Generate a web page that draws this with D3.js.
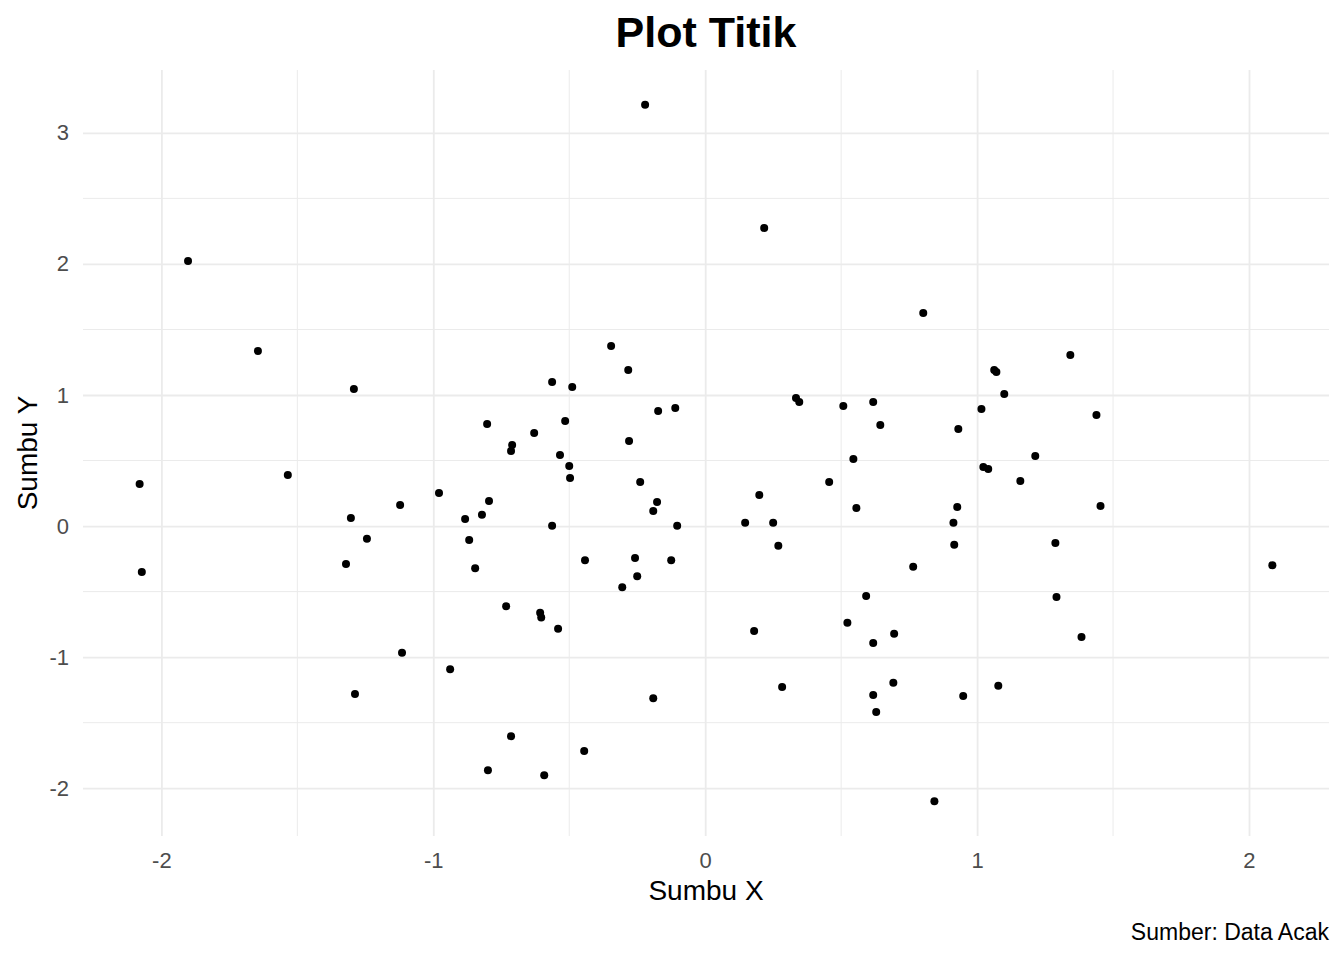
<!DOCTYPE html>
<html>
<head>
<meta charset="utf-8">
<script src="https://cdn.jsdelivr.net/npm/d3@7"></script>
<style>
  body { margin: 0; background: #fff; }
  text { font-family: "Liberation Sans", Arial, sans-serif; }
</style>
</head>
<body>
<div id="chart"></div>
<script>
// x and y values, one pair per point
const xVals = [
  -0.221, 0.217, -1.902, 0.802, -1.645, 1.343, -0.346, -1.292, -0.563, -0.489,
  -0.283, 1.063, 1.071, 1.100, 0.334, 0.346, 0.508, 0.618, 1.016, 1.439,
  0.644, 0.931, -0.802, -0.515, -0.173, -0.110, -0.629, -0.710, -0.714, -0.280,
  -0.534, -0.500, -0.497, 0.545, 1.214, 1.023, 1.041, 1.159, 0.456, -0.239,
  -1.535, -2.080, -0.979, 0.199, -0.795, -1.122, -0.177, -0.191, 0.556, 0.927,
  1.454, -1.303, -0.883, -0.821, -0.563, -0.103, 0.147, 0.250, 0.913, -1.244,
  -0.868, 0.269, 0.916, 1.288, -1.321, -2.072, -0.846, -0.442, -0.258, -0.125,
  -0.250, -0.305, 0.765, 2.086, 0.592, 1.292, -0.732, -0.607, -0.603, -0.541,
  0.523, 0.180, 1.384, 0.695, 0.618, -1.115, -0.938, -1.288, 0.283, 0.692,
  1.078, -0.191, 0.618, 0.949, 0.629, -0.714, -0.445, -0.799, -0.592, 0.843
]
const yVals = [
  3.214, 2.275, 2.023, 1.626, 1.336, 1.305, 1.374, 1.046, 1.099, 1.061,
  1.191, 1.191, 1.176, 1.008, 0.977, 0.947, 0.916, 0.947, 0.893, 0.847,
  0.771, 0.740, 0.779, 0.802, 0.878, 0.901, 0.710, 0.618, 0.573, 0.649,
  0.542, 0.458, 0.366, 0.511, 0.534, 0.450, 0.435, 0.344, 0.336, 0.336,
  0.389, 0.321, 0.252, 0.237, 0.191, 0.160, 0.183, 0.115, 0.137, 0.145,
  0.153, 0.061, 0.053, 0.086, 0.002, 0.002, 0.025, 0.025, 0.025, -0.097,
  -0.107, -0.150, -0.142, -0.130, -0.290, -0.351, -0.321, -0.260, -0.244, -0.260,
  -0.382, -0.466, -0.311, -0.298, -0.534, -0.542, -0.611, -0.662, -0.697, -0.784,
  -0.738, -0.800, -0.847, -0.822, -0.893, -0.967, -1.092, -1.282, -1.227, -1.196,
  -1.219, -1.313, -1.288, -1.296, -1.418, -1.603, -1.716, -1.863, -1.901, -2.099
]

const xTicks = [-2, -1, 0, 1, 2]
const yTicks = [-2, -1, 0, 1, 2, 3]
const xMinor = [-1.5, -0.5, 0.5, 1.5]
const yMinor = [-1.5, -0.5, 0.5, 1.5, 2.5]

const titleText = "Plot Titik"
const xTitle = "Sumbu X"
const yTitle = "Sumbu Y"
const captionText = "Sumber: Data Acak"

const width = 1344
const height = 960
// panel edges
const pLeft = 83, pRight = 1329, pTop = 70, pBottom = 836

const points = xVals.map((x, i) => ({ x: x, y: yVals[i] }))

// ggplot style 5% padding round the data
function padded(vals) {
  const ext = d3.extent(vals)
  const pad = (ext[1] - ext[0]) * 0.05
  return [ext[0] - pad, ext[1] + pad]
}

const x = d3.scaleLinear().domain(padded(xVals)).range([pLeft, pRight])
const y = d3.scaleLinear().domain(padded(yVals)).range([pBottom, pTop])

const svg = d3
  .select("#chart")
  .append("svg")
  .attr("width", width)
  .attr("height", height)

//grid, minor lines first
const grid = svg.append("g")
grid.selectAll(".xminor")
  .data(xMinor)
  .enter()
  .append("line")
  .attr("x1", d => x(d)).attr("x2", d => x(d))
  .attr("y1", pTop).attr("y2", pBottom)
  .attr("stroke", "#ebebeb")
  .attr("stroke-width", 1)
grid.selectAll(".yminor")
  .data(yMinor)
  .enter()
  .append("line")
  .attr("y1", d => y(d)).attr("y2", d => y(d))
  .attr("x1", pLeft).attr("x2", pRight)
  .attr("stroke", "#ebebeb")
  .attr("stroke-width", 1)

//major grid drawn with the axes so the lines sit on the ticks
const xAxis = svg.append("g")
  .attr("transform", "translate(0," + pBottom + ")")
  .call(d3.axisBottom(x).tickValues(xTicks).tickSize(-(pBottom - pTop)).tickPadding(16))
const yAxis = svg.append("g")
  .attr("transform", "translate(" + pLeft + ",0)")
  .call(d3.axisLeft(y).tickValues(yTicks).tickSize(-(pRight - pLeft)).tickPadding(14))

;[xAxis, yAxis].forEach(a => {
  a.select(".domain").remove()
  a.selectAll(".tick line").attr("stroke", "#ebebeb").attr("stroke-width", 1.8)
  // d3 uses a unicode minus; ggplot shows a hyphen
  a.selectAll(".tick text")
    .text(d => String(d))
    .attr("fill", "#4d4d4d")
    .style("font-size", "22px")
    .style("font-family", "'Liberation Sans', Arial, sans-serif")
})

//points
svg.append("g")
  .selectAll("circle")
  .data(points)
  .enter()
  .append("circle")
  .attr("cx", d => x(d.x))
  .attr("cy", d => y(d.y))
  .attr("r", 4)
  .style("fill", "#000")

//title
svg.append("text")
  .attr("x", (pLeft + pRight) / 2)
  .attr("y", 47)
  .attr("text-anchor", "middle")
  .style("font-size", "43px")
  .style("font-weight", "bold")
  .text(titleText)

//axis titles
svg.append("text")
  .attr("x", (pLeft + pRight) / 2)
  .attr("y", 900)
  .attr("text-anchor", "middle")
  .style("font-size", "28px")
  .text(xTitle)

svg.append("text")
  .attr("transform", "translate(37," + (pTop + pBottom) / 2 + ") rotate(-90)")
  .attr("text-anchor", "middle")
  .style("font-size", "28px")
  .text(yTitle)

//caption bottom right
svg.append("text")
  .attr("x", pRight)
  .attr("y", 940)
  .attr("text-anchor", "end")
  .style("font-size", "23px")
  .text(captionText)
</script>
</body>
</html>
